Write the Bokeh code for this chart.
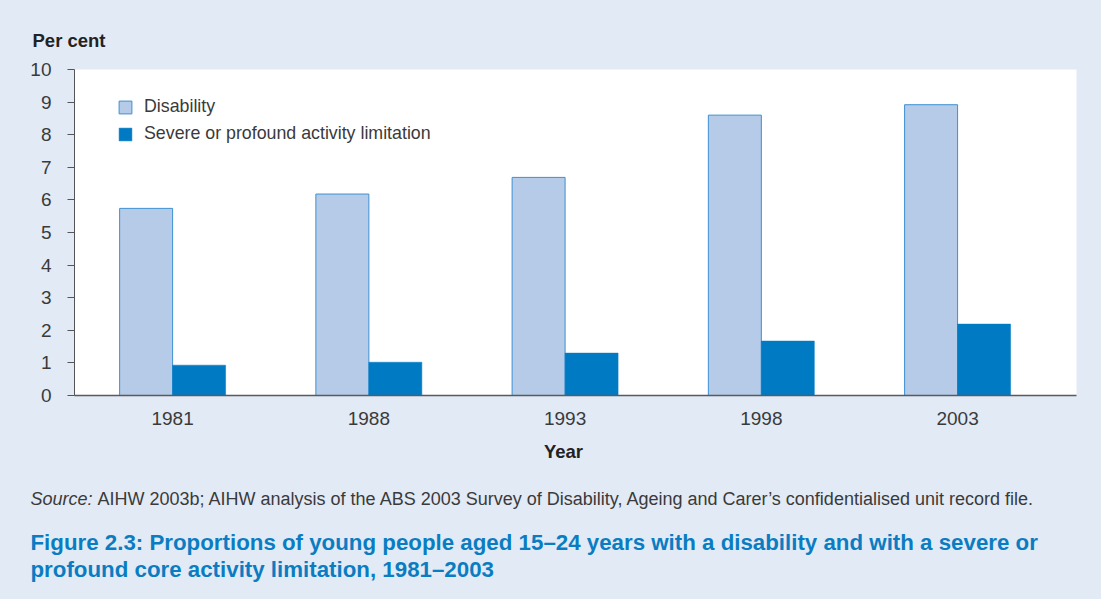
import numpy as np
from bokeh.plotting import figure
from bokeh.layouts import column
from bokeh.models import Range1d, Legend, LegendItem, FixedTicker
from bokeh.core.properties import value
from bokeh.embed import file_html
from bokeh.resources import INLINE

# ---- data ----
years = ["1981", "1988", "1993", "1998", "2003"]
disability = [5.74, 6.18, 6.69, 8.60, 8.92]
severe = [0.93, 1.02, 1.30, 1.67, 2.19]
y_ticks = [0, 1, 2, 3, 4, 5, 6, 7, 8, 9, 10]
series_names = ["Disability", "Severe or profound activity limitation"]
y_title = "Per cent"
x_title = "Year"
source_lead = "Source:"
source_note = "AIHW 2003b; AIHW analysis of the ABS 2003 Survey of Disability, Ageing and Carer\u2019s confidentialised unit record file."
title_lines = ["Figure 2.3: Proportions of young people aged 15\u201324 years with a disability and with a severe or",
               "profound core activity limitation, 1981\u20132003"]

# ---- style ----
PANEL = "#E2EAF6"
LIGHT = "#B6CBE7"
LIGHT_EDGE = "#3D90D2"
DARK = "#007BC3"
TEXT = "#3A3A3A"
DARKTEXT = "#222222"
TITLE_BLUE = "#0A7DC2"
FONT = "Liberation Sans"

W = 1101
H_TOP, H_MAIN, H_BOT = 50, 385, 164   # stacked: page y 8..58, 58..443, 443..607


def text_strip(h):
    f = figure(width=W, height=h, output_backend="svg", toolbar_location=None,
               x_range=Range1d(0, W), y_range=Range1d(h, 0),
               x_axis_type=None, y_axis_type=None, min_border=0, frame_align=False)
    f.background_fill_color = PANEL
    f.border_fill_color = PANEL
    f.outline_line_color = None
    f.grid.visible = False
    return f


def put(f, px, py, txt, size, style="normal", color=TEXT, align="left", top=0):
    f.text(x=[px - 8], y=[py - top], text=[txt], text_font=value(FONT),
           text_font_size=value(size), text_font_style=style, text_color=color,
           text_baseline="middle", text_align=align)


# ---- top strip ----
top = text_strip(H_TOP)
put(top, 40, 48, y_title, "18.5px", "bold", DARKTEXT, top=8)

# ---- main chart ----
x = np.arange(len(years))
bw = 0.27
p = figure(width=W, height=H_MAIN, output_backend="svg", toolbar_location=None,
           x_range=Range1d(-0.5, 4.606), y_range=Range1d(0, 10), frame_align=False,
           min_border_left=74, min_border_right=25, min_border_top=19, min_border_bottom=40)
p.background_fill_color = "white"
p.border_fill_color = PANEL
p.outline_line_color = None
p.grid.visible = False

r1 = p.vbar(x=x - bw / 2, top=disability, width=bw, fill_color=LIGHT,
            line_color=LIGHT_EDGE, line_width=1)
r2 = p.vbar(x=x + bw / 2, top=severe, width=bw, fill_color=DARK, line_color=DARK, line_width=0.5)

p.yaxis.ticker = FixedTicker(ticks=y_ticks)
p.yaxis.minor_tick_line_color = None
p.yaxis.major_tick_out = 7
p.yaxis.major_tick_in = 0
p.yaxis.major_tick_line_color = "#555555"
p.yaxis.axis_line_color = "#555555"
p.yaxis.major_label_standoff = 16
p.yaxis.major_label_text_font = FONT
p.yaxis.major_label_text_font_size = "19px"
p.yaxis.major_label_text_color = TEXT

p.xaxis.ticker = FixedTicker(ticks=list(x))
p.xaxis.major_label_overrides = {int(i): y for i, y in zip(x, years)}
p.xaxis.minor_tick_line_color = None
p.xaxis.major_tick_line_color = None
p.xaxis.major_tick_out = 0
p.xaxis.major_tick_in = 0
p.xaxis.axis_line_color = "#5a5a5a"
p.xaxis.axis_line_width = 1.5
p.xaxis.major_label_standoff = 16
p.xaxis.major_label_text_font = FONT
p.xaxis.major_label_text_font_size = "19px"
p.xaxis.major_label_text_color = TEXT

legend = Legend(items=[LegendItem(label=series_names[0], renderers=[r1]),
                       LegendItem(label=series_names[1], renderers=[r2])],
                location=(43, 251), orientation="vertical")
legend.glyph_width = 16
legend.glyph_height = 16
legend.label_height = 16
legend.spacing = 6
legend.padding = 0
legend.margin = 0
legend.label_standoff = 11
legend.label_text_font = FONT
legend.label_text_font_size = "17.8px"
legend.label_text_color = TEXT
legend.border_line_color = None
legend.background_fill_alpha = 0
p.add_layout(legend, "center")

# ---- bottom strip ----
bot = text_strip(H_BOT)
T0 = 443
put(bot, 571, 459, x_title, "18.5px", "bold", DARKTEXT, "center", top=T0)
put(bot, 38, 506, source_lead, "18px", "italic", TEXT, top=T0)
put(bot, 105, 506, source_note, "18px", "normal", TEXT, top=T0)
put(bot, 38, 550, title_lines[0], "22.3px", "bold", TITLE_BLUE, top=T0)
put(bot, 38, 577, title_lines[1], "22.3px", "bold", TITLE_BLUE, top=T0)

layout = column(top, p, bot, spacing=0, styles={"background-color": PANEL})
open("out.html", "w").write(file_html(layout, INLINE))
